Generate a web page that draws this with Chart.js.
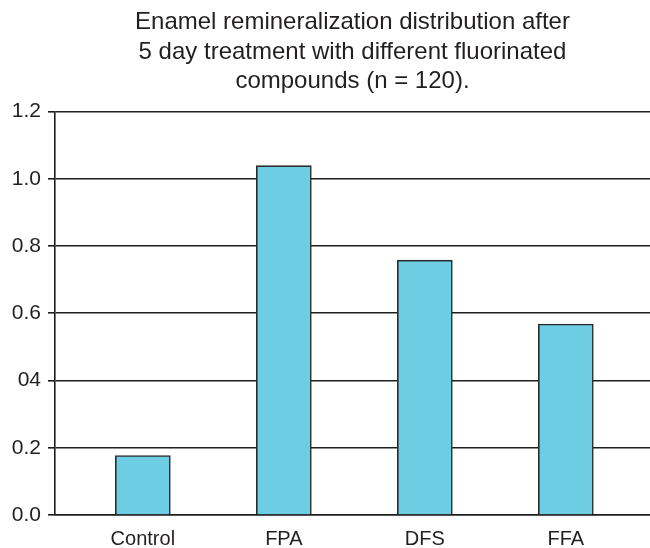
<!DOCTYPE html>
<html>
<head>
<meta charset="utf-8">
<script src="https://cdn.jsdelivr.net/npm/chart.js@4/dist/chart.umd.min.js"></script>
<style>
  html, body { margin: 0; padding: 0; background: #fff; }
  #wrap { width: 650px; height: 548px; }
</style>
</head>
<body>
<div id="wrap"><canvas id="chart"></canvas></div>
<script>
const titleLines = [
    'Enamel remineralization distribution after',
    '5 day treatment with different fluorinated',
    'compounds (n = 120).'
];
const categories = ['Control', 'FPA', 'DFS', 'FFA'];
const remineralization = [0.177, 1.039, 0.758, 0.568];
const yTickLabels = ['0.0', '0.2', '04', '0.6', '0.8', '1.0', '1.2'];

const inkColor = '#231f20';
const barFill = '#6dcde3';
const fontFamily = '"Liberation Sans", Arial, Helvetica, sans-serif';

const ctx = document.getElementById('chart').getContext('2d');
new Chart(ctx, {
    type: 'bar',
    data: {
        datasets: [{
            data: categories.map((c, i) => ({ x: i, y: remineralization[i] })),
            backgroundColor: barFill,
            borderColor: '#2b2b2b',
            borderWidth: 1.6,
            borderSkipped: 'bottom',
            barThickness: 55
        }]
    },
    options: {
        responsive: true,
        maintainAspectRatio: false,
        animation: false,
        layout: { padding: 0 },
        plugins: {
            legend: { display: false },
            tooltip: { enabled: false },
            title: {
                display: true,
                text: titleLines,
                fullSize: false,
                color: inkColor,
                font: { family: fontFamily, size: 24, weight: 'normal', lineHeight: 1.23 },
                padding: { top: 8, bottom: 15 }
            }
        },
        scales: {
            x: {
                type: 'linear',
                offset: false,
                min: -0.623,
                max: 3.597,
                grid: { display: false },
                border: { display: true, color: '#1e1e1e', width: 1.6 },
                afterBuildTicks: (scale) => {
                    scale.ticks = categories.map((c, i) => ({ value: i }));
                },
                afterFit: (scale) => { scale.height = 33; },
                ticks: {
                    autoSkip: false,
                    maxRotation: 0,
                    padding: 4,
                    color: inkColor,
                    font: { family: fontFamily, size: 20 },
                    callback: (value) => categories[value]
                }
            },
            y: {
                min: 0,
                max: 1.2,
                grid: { color: '#1e1e1e', lineWidth: 1.6, tickLength: 7 },
                border: { display: true, color: '#1e1e1e', width: 1.6 },
                afterFit: (scale) => { scale.width = 55; },
                ticks: {
                    stepSize: 0.2,
                    padding: 7,
                    color: inkColor,
                    font: { family: fontFamily, size: 21 },
                    callback: (value, index) => yTickLabels[index]
                }
            }
        }
    }
});
</script>
</body>
</html>
